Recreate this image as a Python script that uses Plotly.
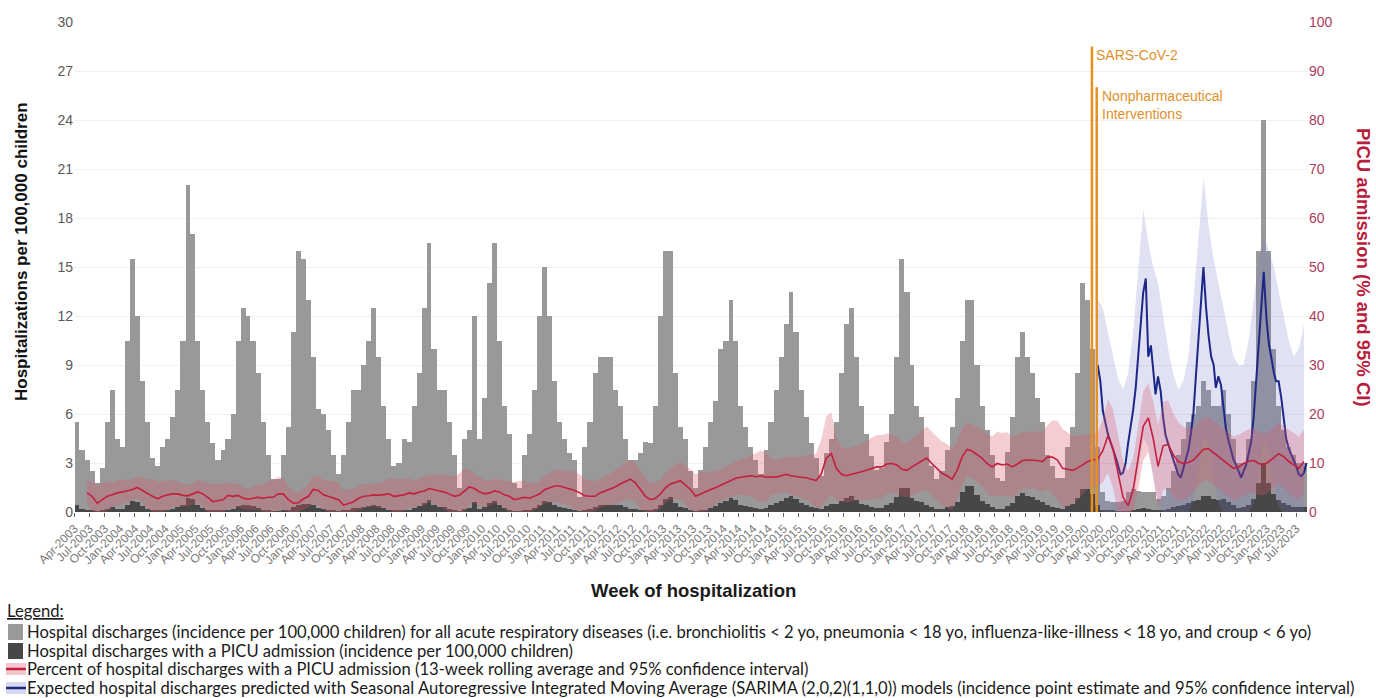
import pandas as pd
import plotly.graph_objects as go

# ---------------- data (monthly, Apr-2003 .. Aug-2023) ----------------
total_2003 = [5.5, 3.8, 3.2, 2.5, 1.8, 2.7, 5.5, 7.5, 4.5]
total_2004 = [4.0, 10.5, 15.5, 12.0, 8.0, 5.5, 3.3, 2.8, 4.0, 4.5, 5.8, 7.5]
total_2005 = [10.5, 20.0, 17.0, 10.5, 7.5, 5.5, 4.2, 3.2, 3.8, 4.5, 6.0, 10.5]
total_2006 = [12.5, 12.0, 10.5, 8.5, 5.5, 3.5, 2.0, 2.0, 3.5, 5.2, 11.0, 16.0]
total_2007 = [15.5, 13.0, 9.5, 6.3, 6.0, 5.0, 3.5, 2.3, 3.5, 5.5, 7.5, 7.5]
total_2008 = [9.0, 10.5, 12.5, 9.5, 6.5, 4.5, 2.8, 3.0, 4.5, 4.3, 6.5, 8.5]
total_2009 = [12.5, 16.5, 10.0, 7.5, 7.5, 5.5, 3.5, 1.5, 4.5, 5.0, 12.0, 4.5]
total_2010 = [7.0, 14.0, 16.5, 10.5, 6.5, 4.8, 1.8, 1.5, 3.5, 4.8, 7.5, 12.0]
total_2011 = [15.0, 12.0, 8.0, 5.5, 4.5, 3.6, 3.2, 0.9, 4.0, 5.5, 8.5, 9.5]
total_2012 = [9.5, 9.5, 7.5, 6.5, 4.5, 3.2, 3.2, 3.6, 4.3, 4.2, 6.5, 12.0]
total_2013 = [16.0, 16.0, 8.5, 5.2, 4.5, 2.5, 1.5, 2.6, 4.0, 5.5, 6.8, 10.0]
total_2014 = [10.5, 13.0, 10.5, 6.5, 5.2, 4.0, 3.2, 2.3, 3.8, 5.5, 7.5, 9.5]
total_2015 = [11.5, 13.5, 11.0, 7.5, 5.8, 4.2, 3.3, 2.2, 3.6, 4.5, 5.5, 8.5]
total_2016 = [11.5, 12.5, 9.5, 6.5, 4.8, 3.4, 2.6, 2.7, 4.3, 6.0, 9.5, 15.5]
total_2017 = [13.5, 9.0, 6.5, 5.8, 4.0, 2.8, 2.0, 2.5, 3.8, 5.2, 7.0, 10.5]
total_2018 = [13.0, 13.0, 9.0, 6.5, 5.0, 3.5, 2.1, 1.9, 3.7, 5.8, 9.5, 11.0]
total_2019 = [9.5, 8.5, 7.0, 5.5, 3.5, 2.8, 2.1, 2.1, 4.0, 5.2, 8.5, 14.0]
total_2020 = [13.0, 10.0, 4.0, 1.2, 0.7, 0.6, 0.6, 0.7, 1.2, 1.4, 1.3, 1.2]
total_2021 = [1.2, 1.2, 0.8, 1.0, 1.5, 2.5, 3.5, 4.5, 5.5, 6.0, 6.5, 8.0]
total_2022 = [7.5, 6.5, 6.5, 7.5, 6.0, 4.5, 3.0, 3.0, 4.5, 8.0, 16.0, 24.0]
total_2023 = [16.0, 10.0, 6.5, 5.0, 4.0, 3.5, 3.0, 3.0]

picu_2003 = [0.4, 0.2, 0.15, 0.1, 0.05, 0.1, 0.2, 0.3, 0.2]
picu_2004 = [0.2, 0.45, 0.7, 0.6, 0.35, 0.2, 0.1, 0.08, 0.12, 0.15, 0.2, 0.3]
picu_2005 = [0.4, 0.85, 0.8, 0.45, 0.25, 0.15, 0.1, 0.07, 0.1, 0.15, 0.2, 0.35]
picu_2006 = [0.4, 0.4, 0.35, 0.25, 0.15, 0.1, 0.05, 0.05, 0.1, 0.15, 0.3, 0.45]
picu_2007 = [0.5, 0.5, 0.4, 0.25, 0.2, 0.15, 0.1, 0.05, 0.1, 0.15, 0.25, 0.25]
picu_2008 = [0.3, 0.35, 0.45, 0.35, 0.22, 0.15, 0.1, 0.1, 0.15, 0.15, 0.25, 0.35]
picu_2009 = [0.55, 0.75, 0.45, 0.3, 0.3, 0.2, 0.12, 0.05, 0.2, 0.25, 0.6, 0.2]
picu_2010 = [0.3, 0.55, 0.65, 0.45, 0.25, 0.15, 0.05, 0.05, 0.1, 0.15, 0.25, 0.45]
picu_2011 = [0.7, 0.6, 0.45, 0.3, 0.22, 0.17, 0.12, 0.04, 0.15, 0.2, 0.3, 0.4]
picu_2012 = [0.45, 0.45, 0.4, 0.4, 0.3, 0.2, 0.2, 0.15, 0.12, 0.1, 0.2, 0.45]
picu_2013 = [0.8, 0.9, 0.55, 0.32, 0.25, 0.12, 0.05, 0.1, 0.15, 0.25, 0.35, 0.55]
picu_2014 = [0.65, 0.85, 0.75, 0.45, 0.37, 0.3, 0.23, 0.17, 0.27, 0.4, 0.55, 0.7]
picu_2015 = [0.85, 1.0, 0.8, 0.55, 0.42, 0.3, 0.23, 0.17, 0.35, 0.5, 0.5, 0.65]
picu_2016 = [0.85, 0.95, 0.75, 0.5, 0.4, 0.3, 0.23, 0.25, 0.4, 0.55, 0.9, 1.5]
picu_2017 = [1.5, 0.85, 0.65, 0.6, 0.42, 0.28, 0.18, 0.2, 0.28, 0.35, 0.6, 1.2]
picu_2018 = [1.6, 1.6, 1.05, 0.7, 0.5, 0.32, 0.2, 0.18, 0.36, 0.55, 0.95, 1.15]
picu_2019 = [1.0, 0.9, 0.75, 0.6, 0.4, 0.3, 0.22, 0.2, 0.38, 0.5, 0.85, 1.4]
picu_2020 = [1.4, 1.1, 0.45, 0.14, 0.09, 0.08, 0.05, 0.03, 0.04, 0.12, 0.2, 0.22]
picu_2021 = [0.2, 0.15, 0.1, 0.13, 0.2, 0.3, 0.35, 0.45, 0.55, 0.65, 0.75, 1.0]
picu_2022 = [0.95, 0.8, 0.75, 0.8, 0.6, 0.4, 0.27, 0.28, 0.45, 0.8, 1.8, 3.0]
picu_2023 = [1.8, 1.1, 0.75, 0.55, 0.4, 0.33, 0.28, 0.3]

# percent of discharges with PICU admission (13-week rolling average), %
pct_2003 = [None, None, 3.9, 3.2, 1.8, 2.5, 3.2, 3.5, 3.9]
pct_2004 = [4.1, 4.3, 4.6, 5.0, 4.4, 3.7, 3.2, 2.7, 3.2, 3.5, 3.7, 3.7]
pct_2005 = [3.4, 3.3, 3.7, 4.1, 3.7, 3.0, 2.1, 2.3, 2.5, 3.4, 3.2, 3.4]
pct_2006 = [2.8, 2.6, 2.8, 3.0, 2.8, 3.0, 3.0, 3.7, 3.7, 2.5, 1.8, 1.9]
pct_2007 = [2.7, 3.2, 4.6, 4.4, 3.5, 3.2, 2.8, 2.5, 1.4, 1.8, 2.1, 2.8]
pct_2008 = [3.2, 3.3, 3.5, 3.4, 3.5, 3.7, 3.2, 3.4, 3.5, 3.9, 3.7, 4.1]
pct_2009 = [4.3, 4.8, 4.6, 4.4, 4.1, 3.7, 3.2, 3.4, 4.3, 5.1, 4.8, 4.1]
pct_2010 = [3.7, 3.9, 4.3, 4.1, 3.5, 3.2, 2.5, 2.8, 3.0, 2.8, 3.2, 3.7]
pct_2011 = [4.6, 5.0, 5.3, 5.3, 5.0, 4.8, 4.4, 3.9, 3.3, 3.2, 3.2, 3.9]
pct_2012 = [4.3, 4.6, 5.1, 5.7, 6.2, 6.7, 6.0, 4.6, 3.2, 2.5, 2.8, 3.7]
pct_2013 = [5.0, 5.7, 6.0, 6.4, 5.5, 4.6, 3.2, 3.7, 4.1, 4.6, 5.0, 5.5]
pct_2014 = [6.0, 6.4, 6.9, 7.1, 7.2, 7.4, 7.2, 7.4, 7.1, 7.2, 7.1, 7.4]
pct_2015 = [7.7, 7.4, 7.2, 7.1, 7.0, 6.7, 6.4, 7.8, 11.0, 11.9, 8.9, 7.7]
pct_2016 = [7.4, 7.7, 7.9, 8.2, 8.5, 8.9, 9.2, 9.2, 9.8, 9.9, 9.6, 8.7]
pct_2017 = [8.5, 9.2, 9.8, 10.4, 11.0, 9.9, 8.9, 7.9, 7.4, 6.7, 8.5, 11.3]
pct_2018 = [12.8, 12.4, 11.7, 11.0, 9.9, 9.2, 9.9, 9.6, 9.8, 9.2, 9.8, 10.5]
pct_2019 = [10.6, 10.6, 10.5, 10.3, 11.2, 11.2, 10.6, 8.9, 8.7, 8.5, 9.0, 9.6]
pct_2020 = [10.3, 10.6, 10.8, 12.5, 15.5, 13.0, 8.0, 3.0, 1.3, 4.5, 11.0, 17.5]
pct_2021 = [19.2, 15.0, 9.3, 13.5, 13.8, 11.7, 10.3, 9.9, 10.1, 10.6, 11.7, 12.8]
pct_2022 = [12.9, 12.1, 11.2, 10.5, 9.6, 8.9, 9.2, 9.9, 10.4, 10.5, 9.9, 9.6]
pct_2023 = [10.3, 11.2, 11.9, 11.3, 10.3, 9.6, 8.9, 10.3]

# half-width of the 95% CI of the percentage, %
ci_2003 = [None, None, 2.5, 3.0, 3.5, 3.5, 3.0, 2.5, 2.5]
ci_2004 = [2.5, 2.3, 2.2, 2.2, 2.5, 3.0, 3.5, 3.5, 3.2, 3.0, 2.8, 2.6]
ci_2005 = [2.4, 2.2, 2.2, 2.3, 2.6, 3.0, 3.5, 3.5, 3.2, 2.8, 2.6, 2.4]
ci_2006 = [2.2, 2.2, 2.3, 2.5, 2.8, 3.2, 3.5, 3.5, 3.2, 2.8, 2.4, 2.2]
ci_2007 = [2.2, 2.3, 2.8, 3.0, 3.0, 3.2, 3.5, 3.5, 3.0, 2.8, 2.6, 2.5]
ci_2008 = [2.5, 2.4, 2.4, 2.5, 2.8, 3.2, 3.5, 3.5, 3.2, 3.0, 2.8, 2.8]
ci_2009 = [3.0, 2.8, 3.0, 3.2, 3.5, 3.8, 4.0, 4.5, 4.5, 3.5, 3.0, 3.0]
ci_2010 = [2.8, 2.6, 2.5, 2.6, 2.8, 3.2, 3.6, 3.6, 3.4, 3.0, 2.8, 2.6]
ci_2011 = [2.8, 3.0, 3.2, 3.4, 3.4, 3.6, 3.8, 3.8, 3.5, 3.2, 3.0, 3.0]
ci_2012 = [3.0, 3.2, 3.4, 3.6, 3.8, 4.0, 4.0, 4.0, 3.8, 3.5, 3.2, 3.0]
ci_2013 = [3.0, 3.2, 3.5, 3.8, 4.0, 4.2, 4.5, 4.5, 4.0, 3.6, 3.4, 3.3]
ci_2014 = [3.3, 3.3, 3.4, 3.6, 3.8, 4.2, 4.8, 5.2, 5.0, 3.8, 3.5, 3.5]
ci_2015 = [3.6, 3.8, 4.0, 4.2, 4.5, 5.0, 5.5, 7.0, 8.5, 8.5, 6.5, 5.5]
ci_2016 = [5.5, 5.5, 5.5, 5.8, 6.0, 6.2, 6.5, 6.5, 6.2, 6.0, 5.8, 5.5]
ci_2017 = [5.5, 5.8, 6.0, 6.2, 6.5, 6.5, 6.5, 6.5, 6.5, 6.3, 6.0, 5.8]
ci_2018 = [5.5, 5.5, 5.6, 5.8, 6.0, 6.2, 6.5, 6.5, 6.5, 6.2, 6.0, 5.8]
ci_2019 = [5.8, 5.8, 6.0, 6.2, 6.5, 7.5, 8.0, 8.0, 7.5, 7.0, 6.5, 6.0]
ci_2020 = [5.5, 5.5, 5.5, 6.5, 7.5, 8.0, 8.0, 7.5, 7.0, 6.5, 6.5, 7.0]
ci_2021 = [7.0, 7.5, 8.5, 9.0, 9.0, 8.5, 8.0, 7.5, 7.0, 6.5, 6.5, 6.5]
ci_2022 = [6.5, 6.5, 6.5, 6.5, 6.5, 6.5, 6.5, 6.5, 6.5, 6.5, 6.5, 6.2]
ci_2023 = [6.2, 6.2, 6.2, 6.2, 6.5, 6.5, 6.5, 6.5]

# SARIMA expected discharges (incidence), half-monthly from mid-Mar-2020
sarima_fit = [9.0, 8.0, 6.2, 5.4, 4.8, 4.3, 3.9, 3.4, 2.9, 2.3,
              2.4, 3.0, 4.2, 5.2, 6.2, 7.6, 9.4, 11.6, 13.4, 14.3,
              9.5, 10.2, 8.5, 7.2, 8.3, 7.4, 5.8, 4.7, 4.2, 3.7,
              3.2, 2.7, 2.3, 2.1, 2.7, 3.3, 3.8, 4.8, 6.0, 8.4,
              10.8, 13.2, 15.0, 12.5, 10.8, 9.5, 9.0, 7.6, 8.3, 7.8,
              6.3, 5.1, 4.4, 3.7, 3.2, 2.9, 2.5, 2.1, 2.5, 2.9,
              3.6, 4.3, 5.8, 8.2, 10.4, 12.8, 14.7, 11.9, 10.3, 9.4,
              8.5, 8.0, 8.0, 7.0, 5.8, 4.5, 3.9, 3.5, 3.1, 2.8,
              2.3, 2.2, 2.4, 3.0]
# SARIMA 95% CI, monthly Mar-2020 .. Aug-2023
sarima_hi = [13.0, 12.5, 11.0, 9.5, 8.2, 7.5, 8.5, 11.0, 15.0, 18.5,
             16.5, 15.0, 14.0, 12.0, 10.0, 8.5, 7.5, 8.0, 9.5, 13.0,
             17.0, 20.5, 17.5, 15.5, 14.0, 12.5, 11.0, 9.5, 9.0, 9.0,
             10.5, 13.0, 15.5, 17.0, 16.0, 15.0, 13.5, 12.0, 10.5, 9.5,
             10.0, 11.5]
sarima_lo = [0.5, 0, 0, 0, 0, 0, 0, 0.8, 2.5, 4.5,
             4.0, 2.0, 0.5, 0, 0, 0, 0, 0, 0, 0.5,
             2.5, 4.8, 4.0, 2.0, 0.5, 0, 0, 0, 0, 0,
             0, 0.5, 2.5, 4.5, 3.5, 1.5, 0.3, 0, 0, 0,
             0, 0]

sars_date = "2020-02-10"
npi_date = "2020-03-10"

years = range(2003, 2024)
total = sum((globals()[f"total_{y}"] for y in years), [])
picu = sum((globals()[f"picu_{y}"] for y in years), [])
pct = sum((globals()[f"pct_{y}"] for y in years), [])
ci = sum((globals()[f"ci_{y}"] for y in years), [])

months = pd.date_range("2003-04-01", periods=len(total), freq="MS")
month_end = months + pd.offsets.MonthBegin(1)
centers = months + (month_end - months) / 2
widths = [(e - s).total_seconds() * 1000 for s, e in zip(months, month_end)]

valid = [i for i, p in enumerate(pct) if p is not None]
pct_x = [centers[i] for i in valid]
pct_v = [pct[i] for i in valid]
pct_lo = [max(0, pct[i] - ci[i]) for i in valid]
pct_hi = [pct[i] + ci[i] for i in valid]

s_months = pd.date_range("2020-03-01", periods=len(sarima_hi), freq="MS")
s_end = s_months + pd.offsets.MonthBegin(1)
s_centers = s_months + (s_end - s_months) / 2
s_half = []
for s, e in zip(s_months, s_end):
    s_half.append(s + pd.Timedelta(days=15))
    s_half.append(e)
s_half = s_half[:len(sarima_fit)]

# ---------------- figure ----------------
PL, PR, PT, PB = 74, 1308, 22, 512
def px(v):
    return (v - PL) / (PR - PL)
def py(v):
    return (PB - v) / (PB - PT)

GRAY = "#999999"
DARK = "#474747"
PINK = "rgba(220,90,110,0.30)"
RED = "#c41f3e"
LAV = "rgba(120,120,205,0.22)"
NAVY = "#1c2788"
ORANGE = "#e8901e"

fig = go.Figure()
fig.add_trace(go.Bar(x=centers, y=total, width=widths, marker=dict(color=GRAY, line_width=0),
                     showlegend=False, hoverinfo="skip"))
fig.add_trace(go.Bar(x=centers, y=picu, width=widths, marker=dict(color=DARK, line_width=0),
                     showlegend=False, hoverinfo="skip"))
fig.add_trace(go.Scatter(x=s_centers, y=sarima_lo, mode="lines", line=dict(width=0),
                         showlegend=False, hoverinfo="skip"))
fig.add_trace(go.Scatter(x=s_centers, y=sarima_hi, mode="lines", line=dict(width=0),
                         fill="tonexty", fillcolor=LAV, showlegend=False, hoverinfo="skip"))
fig.add_trace(go.Scatter(x=s_half, y=sarima_fit, mode="lines", line=dict(color=NAVY, width=2),
                         showlegend=False))
fig.add_trace(go.Scatter(x=pct_x, y=pct_lo, mode="lines", line=dict(width=0), yaxis="y2",
                         showlegend=False, hoverinfo="skip"))
fig.add_trace(go.Scatter(x=pct_x, y=pct_hi, mode="lines", line=dict(width=0), yaxis="y2",
                         fill="tonexty", fillcolor=PINK, showlegend=False, hoverinfo="skip"))
fig.add_trace(go.Scatter(x=pct_x, y=pct_v, mode="lines", line=dict(color=RED, width=1.6),
                         yaxis="y2", showlegend=False))

tickvals = pd.date_range("2003-04-01", "2023-07-01", freq="QS")
ticktext = [d.strftime("%b-%Y") for d in tickvals]

fig.update_layout(
    width=1376, height=698,
    margin=dict(l=PL, r=1376 - PR, t=PT, b=698 - PB),
    plot_bgcolor="white", paper_bgcolor="white",
    barmode="overlay", bargap=0,
    font=dict(family="Liberation Sans, Arial", color="#595959"),
    xaxis=dict(type="date", range=["2003-03-29", "2023-09-10"], tickvals=tickvals,
               ticktext=ticktext, tickangle=-45, tickfont=dict(size=12, color="#7a7a7a"),
               ticks="outside", ticklen=4, tickcolor="#666", showgrid=False,
               showline=False, zeroline=False, automargin=False),
    yaxis=dict(range=[0, 30], dtick=3, tickfont=dict(size=14, color="#595959"),
               gridcolor="#f0f0f0", zeroline=False, showline=False, ticks="",
               automargin=False),
    yaxis2=dict(range=[0, 100], dtick=10, overlaying="y", side="right",
                tickfont=dict(size=14, color="#ad3b5c"), showgrid=False, zeroline=False,
                automargin=False),
)

# event lines
fig.add_shape(type="line", xref="x", yref="y", x0=sars_date, x1=sars_date, y0=0, y1=28.5,
              line=dict(color=ORANGE, width=2.5))
fig.add_shape(type="line", xref="x", yref="y", x0=npi_date, x1=npi_date, y0=0, y1=26.0,
              line=dict(color=ORANGE, width=2.5))
fig.add_annotation(x=sars_date, y=28.0, xref="x", yref="y", text="SARS-CoV-2", showarrow=False,
                   xanchor="left", yanchor="middle", xshift=2,
                   font=dict(size=14, color="#e0902a", family="Liberation Sans, Arial"))
fig.add_annotation(x=npi_date, y=24.9, xref="x", yref="y",
                   text="Nonpharmaceutical<br>Interventions", showarrow=False, align="left",
                   xanchor="left", yanchor="middle", xshift=3,
                   font=dict(size=14, color="#e0902a", family="Liberation Sans, Arial"))

# axis titles
fig.add_annotation(x=px(22), y=py(252), xref="paper", yref="paper", textangle=-90,
                   xanchor="center", yanchor="middle",
                   text="<b>Hospitalizations per 100,000 children</b>", showarrow=False,
                   font=dict(size=17, color="#111111"))
fig.add_annotation(x=px(1364), y=py(267), xref="paper", yref="paper", textangle=90,
                   xanchor="center", yanchor="middle",
                   text="<b>PICU admission (% and 95% CI)</b>", showarrow=False,
                   font=dict(size=18.5, color="#b81d3c"))
fig.add_annotation(x=px(693), y=py(590), xref="paper", yref="paper",
                   xanchor="center", yanchor="middle",
                   text="<b>Week of hospitalization</b>", showarrow=False,
                   font=dict(size=18.5, color="#1a1a1a"))

# custom legend
LF = dict(family="Lato, Liberation Sans", size=16.6, color="#1a1a1a")
fig.add_annotation(x=px(5), y=py(611), xref="paper", yref="paper", text="<u>Legend:</u>",
                   showarrow=False, xanchor="left", yanchor="middle", font=LF)
rows = [
    (632, "Hospital discharges (incidence per 100,000 children) for all acute respiratory diseases (i.e. bronchiolitis < 2 yo, pneumonia < 18 yo, influenza-like-illness < 18 yo, and croup < 6 yo)"),
    (651, "Hospital discharges with a PICU admission (incidence per 100,000 children)"),
    (669, "Percent of hospital discharges with a PICU admission (13-week rolling average and 95% confidence interval)"),
    (688, "Expected hospital discharges predicted with Seasonal Autoregressive Integrated Moving Average (SARIMA (2,0,2)(1,1,0)) models (incidence point estimate and 95% confidence interval)"),
]
for ypix, txt in rows:
    fig.add_annotation(x=px(25), y=py(ypix), xref="paper", yref="paper", text=txt,
                       showarrow=False, xanchor="left", yanchor="middle", font=LF)

fig.add_shape(type="rect", xref="paper", yref="paper", x0=px(8), x1=px(23), y0=py(624), y1=py(640),
              fillcolor=GRAY, line_width=0)
fig.add_shape(type="rect", xref="paper", yref="paper", x0=px(8), x1=px(23), y0=py(643), y1=py(659),
              fillcolor=DARK, line_width=0)
fig.add_shape(type="rect", xref="paper", yref="paper", x0=px(6), x1=px(26), y0=py(663), y1=py(675),
              fillcolor="rgba(220,90,110,0.35)", line_width=0)
fig.add_shape(type="line", xref="paper", yref="paper", x0=px(6), x1=px(26), y0=py(669), y1=py(669),
              line=dict(color=RED, width=2.5))
fig.add_shape(type="rect", xref="paper", yref="paper", x0=px(6), x1=px(26), y0=py(682), y1=py(694),
              fillcolor="rgba(120,120,205,0.3)", line_width=0)
fig.add_shape(type="line", xref="paper", yref="paper", x0=px(6), x1=px(26), y0=py(688), y1=py(688),
              line=dict(color=NAVY, width=2.5))

fig.write_html("out.html", config={"displayModeBar": False},
               post_script="document.body.style.margin='0';document.body.style.overflow='hidden';")
